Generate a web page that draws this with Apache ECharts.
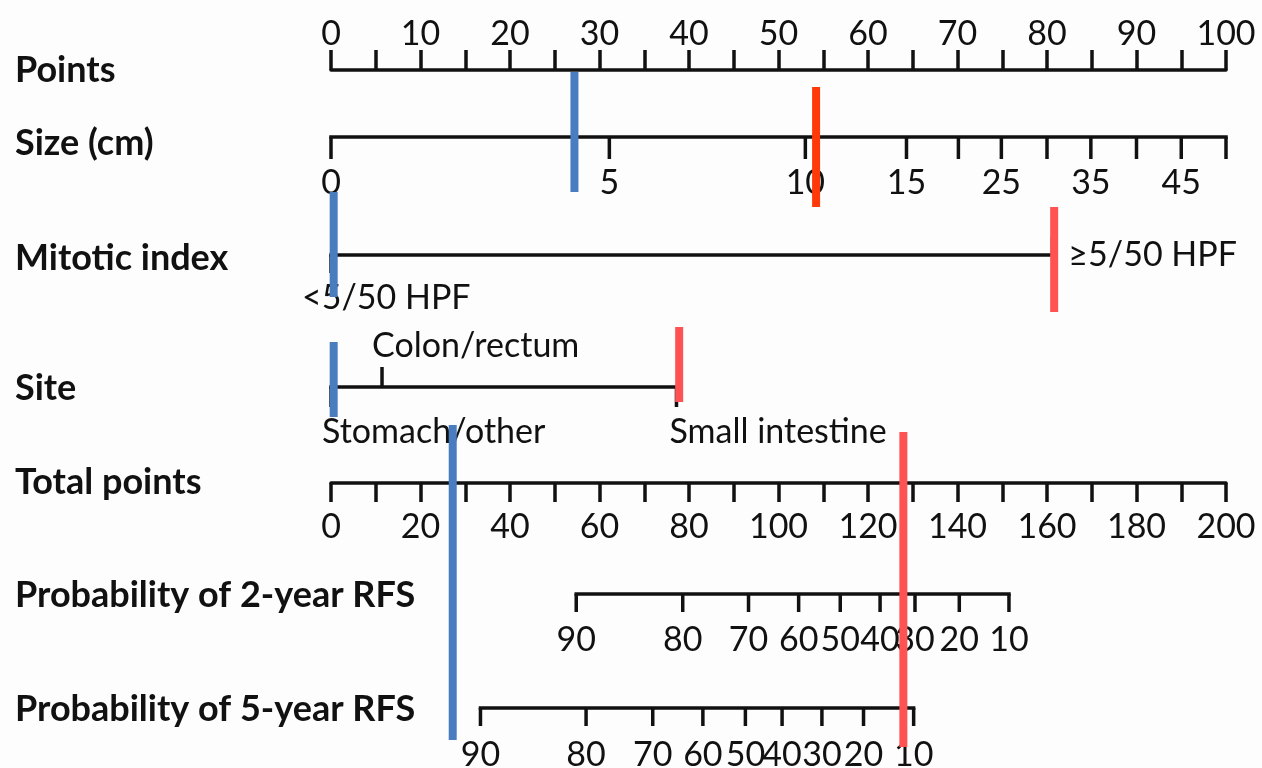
<!DOCTYPE html>
<html>
<head>
<meta charset="utf-8">
<script src="https://cdn.jsdelivr.net/npm/echarts@6/dist/echarts.min.js"></script>
<style>
html,body{margin:0;padding:0;background:#fdfdfd;}
#chart{width:1262px;height:768px;}
</style>
</head>
<body>
<div id="chart"></div>
<script>
// ---------- DATA ----------
const rowTitles = ['Points','Size (cm)','Mitotic index','Site','Total points','Probability of 2-year RFS','Probability of 5-year RFS'];

// Size (cm) -> points
const sizeValues = [0,5,10,15,20,25,30,35,40,45,50];
const sizePoints = [0,31.1,53.0,64.3,70.1,74.9,80.0,84.9,90.0,95.0,100];
const sizeLabels = ['0','5','10','15','','25','','35','','45',''];

// Mitotic index -> points
const mitoticCats = ['<5/50 HPF','≥5/50 HPF'];
const mitoticPoints = [0,80.6];

// Site -> points
const siteCats = ['Stomach/other','Colon/rectum','Small intestine'];
const sitePoints = [0,5.7,38.6];

// Probability of 2-year RFS -> total points
const rfs2Values = [90,80,70,60,50,40,30,20,10];
const rfs2Total  = [54.8,78.6,93.3,104.5,113.8,122.7,130.5,140.4,151.5];

// Probability of 5-year RFS -> total points
const rfs5Values = [90,80,70,60,50,40,30,20,10];
const rfs5Total  = [33.4,57.0,71.9,83.1,92.6,100.8,109.7,119.0,130.2];

// Example patients (marker positions: points scale for first three, total scale for last)
const markerScale = ['points','points','points','total'];
const blueMarker = [27.2,0.3,0.3,27.2];
const redMarker  = [54.2,80.8,38.9,127.9];

// ---------- LAYOUT / STYLE ----------
const FONT = 'Lato, "Open Sans", sans-serif';
const INK = '#111';
const LW = 3.5;
const AX_LEFT = 331, AX_RIGHT = 1226;
const rowY = {points:70, size:137, mitotic:255, site:387, total:483, rfs2:594, rfs5:708};
const titleY = [69,142,257,387,481,594,708];
const blueSpans = [[72,192],[192,297],[342,417],[425,740]];
const redSpans  = [[87,207],[207,312],[327,402],[432,747]];
const blueColor = '#4a7dbf';
const redColors = ['#ff3a0a','#ff5252','#ff5252','#ff5252'];

function rowSeries(cfg){
  const vals = cfg.values;
  const lo = Math.min(...vals), hi = Math.max(...vals);
  return {
    type:'custom', xAxisIndex:cfg.ax, yAxisIndex:0, silent:true, z:3,
    data: vals.map((v,i)=>[v,i]),
    renderItem:(params, api)=>{
      const v = api.value(0), i = api.value(1);
      const p = api.coord([v, cfg.y]);
      const children = [];
      if (i === 0) {
        const a = api.coord([lo, cfg.y]), b = api.coord([hi, cfg.y]);
        children.push({type:'line', shape:{x1:a[0]-LW/2,y1:a[1],x2:b[0]+LW/2,y2:b[1]},
          style:{stroke:INK,lineWidth:LW}});
      }
      const dir = cfg.dirs[i];
      children.push({type:'line', shape:{x1:p[0],y1:p[1],x2:p[0],y2:p[1]+dir*cfg.tickLen},
        style:{stroke:INK,lineWidth:LW}});
      const lab = cfg.labels[i];
      if (lab) {
        const lp = cfg.place[i];
        children.push({type:'text', x:p[0]+lp[0], y:p[1]+lp[1],
          style:{text:lab, font:'34px '+FONT, fill:INK, align:lp[2], verticalAlign:'middle'}});
      }
      return {type:'group', children};
    }
  };
}

function markerSeries(values, spans, colors){
  return {
    type:'custom', yAxisIndex:0, silent:true, z:10,
    xAxisIndex:0,
    data: values.map((v,i)=>[v,i]),
    renderItem:(params, api)=>{
      const i = api.value(1);
      const v = api.value(0);
      let x;
      if (markerScale[i] === 'total') {
        x = chart.convertToPixel({xAxisIndex:1}, v);
      } else {
        x = api.coord([v, 0])[0];
      }
      const y0 = api.coord([0, spans[i][0]])[1];
      const y1 = api.coord([0, spans[i][1]])[1];
      return {type:'rect', shape:{x:x-4, y:y0, width:8, height:y1-y0},
        style:{fill: Array.isArray(colors)?colors[i]:colors}};
    }
  };
}

const chart = echarts.init(document.getElementById('chart'), null, {renderer:'canvas'});

const series = [
  rowSeries({ax:0, y:rowY.size, values:sizePoints, labels:sizeLabels, tickLen:22,
    dirs:sizePoints.map(()=>1), place:sizePoints.map(()=>[0,46,'center'])}),
  rowSeries({ax:0, y:rowY.mitotic, values:mitoticPoints, labels:mitoticCats, tickLen:18,
    dirs:[1,-1], place:[[-29,43,'left'],[16,0,'left']]}),
  rowSeries({ax:0, y:rowY.site, values:sitePoints, labels:siteCats, tickLen:20,
    dirs:[1,-1,1], place:[[-9,45,'left'],[-10,-41,'left'],[-7,45,'left']]}),
  rowSeries({ax:1, y:rowY.rfs2, values:rfs2Total, labels:rfs2Values.map(String), tickLen:18,
    dirs:rfs2Total.map(()=>1), place:rfs2Total.map(()=>[0,46,'center'])}),
  rowSeries({ax:1, y:rowY.rfs5, values:rfs5Total, labels:rfs5Values.map(String), tickLen:18,
    dirs:rfs5Total.map(()=>1), place:rfs5Total.map(()=>[0,47,'center'])}),
  markerSeries(blueMarker, blueSpans, blueColor),
  markerSeries(redMarker, redSpans, redColors)
];

const option = {
  backgroundColor:'#fdfdfd',
  animation:false,
  grid:[
    {left:AX_LEFT, right:1262-AX_RIGHT, top:rowY.points, bottom:0},
    {left:AX_LEFT, right:1262-AX_RIGHT, top:400, bottom:768-rowY.total}
  ],
  xAxis:[
    {gridIndex:0, type:'value', min:0, max:100, interval:5, position:'top',
     axisLine:{show:true, lineStyle:{color:INK, width:LW}},
     axisTick:{show:true, length:20, lineStyle:{color:INK, width:LW}},
     axisLabel:{show:true, margin:19, fontSize:34, fontFamily:FONT, color:INK,
       formatter:v=> (v%10===0 ? String(v) : '')},
     splitLine:{show:false}},
    {gridIndex:0, type:'value', min:0, max:200, show:false},
    {gridIndex:1, type:'value', min:0, max:200, interval:10, position:'bottom',
     axisLine:{show:true, lineStyle:{color:INK, width:LW}},
     axisTick:{show:true, length:19, lineStyle:{color:INK, width:LW}},
     axisLabel:{show:true, margin:27, fontSize:34, fontFamily:FONT, color:INK,
       formatter:v=> (v%20===0 ? String(v) : '')},
     splitLine:{show:false}}
  ],
  yAxis:[
    {gridIndex:0, type:'value', min:rowY.points, max:768, inverse:true, show:false},
    {gridIndex:1, type:'value', min:0, max:1, show:false}
  ],
  graphic: rowTitles.map((t,i)=>({
    type:'text', left:15, top:titleY[i]-17, z:5,
    style:{text:t, font:'bold 36px '+FONT, fill:INK, textVerticalAlign:'top'}
  })),
  series
};
chart.setOption(option);
</script>
</body>
</html>
